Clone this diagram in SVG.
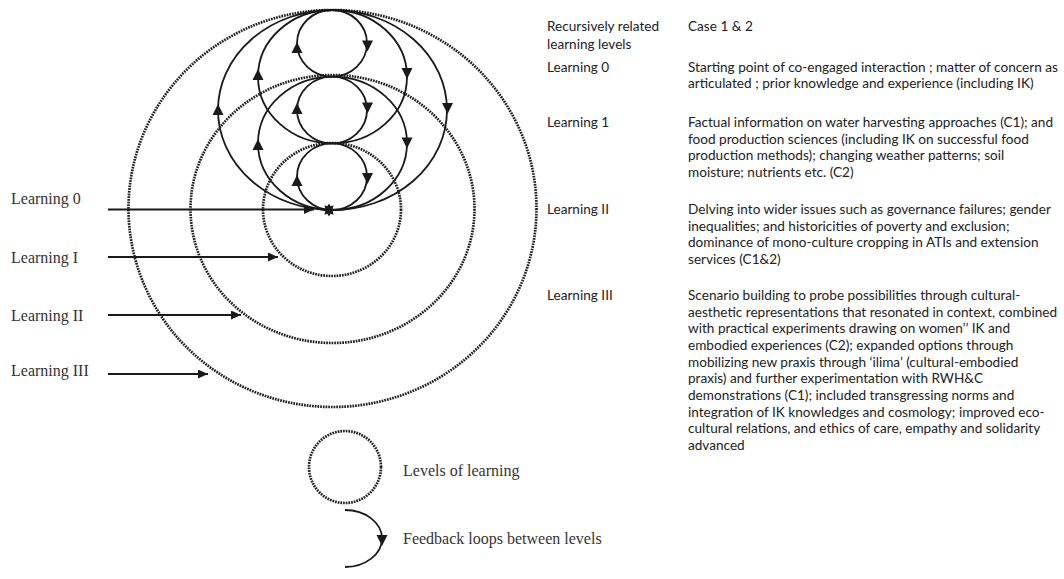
<svg xmlns="http://www.w3.org/2000/svg" width="1064" height="579" viewBox="0 0 1064 579">
<style>
.dot{fill:none;stroke:#1e1e1e;stroke-width:2.7;stroke-dasharray:1.7 1}
.loop{fill:none;stroke:#1a1a1a;stroke-width:1.8}
.ptr{stroke:#1a1a1a;stroke-width:1.8;fill:none}
.serif{font-family:"Liberation Serif","Times New Roman",serif;font-size:16px;fill:#333}
.sans{font-family:Lato,"Liberation Sans",Arial,sans-serif;font-size:13.6px;fill:#222}
</style>
<defs>
<polygon id="au" points="0,-6 5.5,5 -5.5,5" fill="#1a1a1a"/>
<polygon id="ad" points="0,6 5.5,-5 -5.5,-5" fill="#1a1a1a"/>
<marker id="ah" markerUnits="userSpaceOnUse" markerWidth="12" markerHeight="10" refX="10" refY="4.5" orient="auto">
<path d="M0,0 L10,4.5 L0,9 Z" fill="#1a1a1a"/>
</marker>
</defs>

<g id="levels">
<ellipse id="level-0-inner" class="dot" cx="332" cy="209.5" rx="69" ry="66.5"/>
<ellipse id="level-mid" class="dot" cx="332.5" cy="209" rx="142" ry="134"/>
<ellipse id="level-outer" class="dot" cx="332.5" cy="208.5" rx="204" ry="198.5"/>
</g>

<g id="loops">
<ellipse class="loop" cx="332" cy="43.3" rx="35" ry="33.3"/>
<ellipse class="loop" cx="332" cy="110" rx="35" ry="33.3"/>
<ellipse class="loop" cx="332" cy="176.7" rx="35" ry="33.3"/>
<ellipse class="loop" cx="332.5" cy="76.7" rx="74.5" ry="66.7"/>
<ellipse class="loop" cx="332.5" cy="143.3" rx="74.5" ry="66.7"/>
<ellipse class="loop" cx="332.5" cy="110" rx="114.5" ry="100"/>
<use href="#au" x="297" y="48"/>
<use href="#ad" x="367.5" y="45.5"/>
<use href="#au" x="297" y="109"/>
<use href="#ad" x="367.5" y="107.5"/>
<use href="#au" x="297" y="181"/>
<use href="#ad" x="367.5" y="178"/>
<use href="#au" x="258" y="75"/>
<use href="#ad" x="407" y="73"/>
<use href="#au" x="258" y="145"/>
<use href="#ad" x="407" y="142.5"/>
<use href="#au" x="218" y="110"/>
<use href="#ad" x="447.5" y="108"/>
</g>

<g id="origin-star">
<polygon fill="#1a1a1a" points="329,203.5 330.6,206.3 333.6,205.3 332.7,208.4 335.5,210 332.7,211.6 333.6,214.7 330.6,213.7 329,216.5 327.4,213.7 324.4,214.7 325.3,211.6 322.5,210 325.3,208.4 324.4,205.3 327.4,206.3"/>
</g>

<g id="connectors">
<line class="ptr" x1="108" y1="209.5" x2="314" y2="209.5" stroke-width="2.2" marker-end="url(#ah)"/>
<line class="ptr" x1="108" y1="257" x2="278" y2="257" marker-end="url(#ah)"/>
<line class="ptr" x1="108" y1="315" x2="241" y2="315" marker-end="url(#ah)"/>
<line class="ptr" x1="108" y1="374" x2="208" y2="374" marker-end="url(#ah)"/>
</g>

<g id="left-labels">
<text class="serif" x="11" y="204">Learning 0</text>
<text class="serif" x="11" y="263">Learning I</text>
<text class="serif" x="11" y="321">Learning II</text>
<text class="serif" x="11" y="376">Learning III</text>
</g>

<g id="table">
<text class="sans" x="547" y="31"><tspan x="547">Recursively related</tspan><tspan x="547" dy="18">learning levels</tspan></text>
<text class="sans" x="688" y="31">Case 1 &amp; 2</text>
<text class="sans" x="547" y="72">Learning 0</text>
<text class="sans" y="72"><tspan x="688">Starting point of co-engaged interaction ; matter of concern as</tspan><tspan x="688" dy="16">articulated ; prior knowledge and experience (including IK)</tspan></text>
<text class="sans" x="547" y="127">Learning 1</text>
<text class="sans" y="127"><tspan x="688">Factual information on water harvesting approaches (C1); and</tspan><tspan x="688" dy="16.67">food production sciences (including IK on successful food</tspan><tspan x="688" dy="16.67">production methods); changing weather patterns; soil</tspan><tspan x="688" dy="16.67">moisture; nutrients etc. (C2)</tspan></text>
<text class="sans" x="547" y="214">Learning II</text>
<text class="sans" y="214"><tspan x="688">Delving into wider issues such as governance failures; gender</tspan><tspan x="688" dy="16.67">inequalities; and historicities of poverty and exclusion;</tspan><tspan x="688" dy="16.67">dominance of mono-culture cropping in ATIs and extension</tspan><tspan x="688" dy="16.67">services (C1&amp;2)</tspan></text>
<text class="sans" x="547" y="300">Learning III</text>
<text class="sans" y="300"><tspan x="688">Scenario building to probe possibilities through cultural-</tspan><tspan x="688" dy="16.67">aesthetic representations that resonated in context, combined</tspan><tspan x="688" dy="16.67">with practical experiments drawing on women’’ IK and</tspan><tspan x="688" dy="16.67">embodied experiences (C2); expanded options through</tspan><tspan x="688" dy="16.67">mobilizing new praxis through ‘ilima’ (cultural-embodied</tspan><tspan x="688" dy="16.67">praxis) and further experimentation with RWH&amp;C</tspan><tspan x="688" dy="16.67">demonstrations (C1); included transgressing norms and</tspan><tspan x="688" dy="16.67">integration of IK knowledges and cosmology; improved eco-</tspan><tspan x="688" dy="16.67">cultural relations, and ethics of care, empathy and solidarity</tspan><tspan x="688" dy="16.67">advanced</tspan></text>
</g>

<g id="legend">
<g id="legend-levels">
<circle class="dot" cx="345" cy="467" r="36"/>
<text class="serif" x="403" y="476">Levels of learning</text>
</g>
<g id="legend-feedback">
<path class="loop" d="M345,510 A37,28.5 0 0 1 345,567"/>
<use href="#ad" x="382" y="540"/>
<text class="serif" x="403" y="544">Feedback loops between levels</text>
</g>
</g>
</svg>
